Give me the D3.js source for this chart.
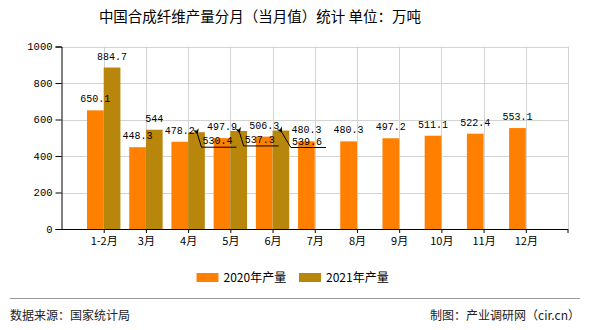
<!DOCTYPE html>
<html><head><meta charset="utf-8">
<script src="https://cdn.jsdelivr.net/npm/d3@7"></script>
<style>body{margin:0;background:#fff}svg{display:block}</style>
</head><body>
<svg id="c" width="590" height="330"></svg>
<script>
const categories = ["1-2月","3月","4月","5月","6月","7月","8月","9月","10月","11月","12月"];
const values2020 = [650.1,448.3,478.2,497.9,506.3,480.3,480.3,497.2,511.1,522.4,553.1];
const values2021 = [884.7,544,530.4,537.3,539.6];
const yTicks = [0,200,400,600,800,1000];
const seriesNames = ["2020年产量","2021年产量"];
const colors = ["#ff8000","#b8860b"];

const svg = d3.select("#c");
const L = 61.5, R = 568, T = 46.5, B = 229;
const x = d3.scalePoint().domain(categories).range([L, R]).padding(1);
const y = d3.scaleLinear().domain([0, 1000]).range([B, T]);
const bw = 16.7;
const numFont = "'Liberation Mono', 'DejaVu Sans Mono', monospace";
const cjk = "'Noto Sans CJK SC', sans-serif";
const fs = 10;

// title
svg.append("text").attr("x", 260).attr("y", 22).attr("text-anchor", "middle")
  .attr("font-family", cjk).attr("font-size", 14.5).attr("fill", "#000")
  .text("中国合成纤维产量分月（当月值）统计 单位：万吨");

// grid
const g = svg.append("g");
g.selectAll(".hg").data(yTicks.filter(d => d > 0)).join("line")
  .attr("x1", L).attr("x2", R).attr("y1", d => Math.round(y(d)) + 0.5).attr("y2", d => Math.round(y(d)) + 0.5)
  .attr("stroke", "#d3d3d3");
g.selectAll(".vg").data(categories).join("line")
  .attr("x1", d => Math.round(x(d)) + 0.5).attr("x2", d => Math.round(x(d)) + 0.5).attr("y1", T).attr("y2", B)
  .attr("stroke", "#d3d3d3");
g.append("line").attr("x1", R + 0.5).attr("x2", R + 0.5).attr("y1", T).attr("y2", B).attr("stroke", "#d3d3d3");

// bars
svg.append("g").selectAll("rect").data(values2020).join("rect")
  .attr("x", (d, i) => x(categories[i]) - bw).attr("width", bw)
  .attr("y", d => y(d)).attr("height", d => B - y(d)).attr("fill", colors[0]);
svg.append("g").selectAll("rect").data(values2021).join("rect")
  .attr("x", (d, i) => x(categories[i])).attr("width", bw)
  .attr("y", d => y(d)).attr("height", d => B - y(d)).attr("fill", colors[1]);

// axes
const ya = svg.append("g").attr("transform", `translate(${L},0)`)
  .call(d3.axisLeft(y).tickValues(yTicks).tickSize(6).tickPadding(3).tickFormat(d3.format("d")));
ya.select(".domain").attr("stroke", "#000");
ya.selectAll("text").attr("font-family", numFont).attr("font-size", 10.5).attr("fill", "#000");
const xa = svg.append("g").attr("transform", `translate(0,${B})`)
  .call(d3.axisBottom(x).tickSize(4).tickSizeOuter(0).tickPadding(4));
xa.select(".domain").attr("stroke", "#000").attr("d", `M${L},0.5H${R}`);
xa.selectAll("text").attr("font-family", cjk).attr("font-size", 11).attr("fill", "#000");
xa.append("line").attr("x1", R).attr("x2", R).attr("y1", 0).attr("y2", 4).attr("stroke", "#000");

// labels 2020
svg.append("g").selectAll("text").data(values2020).join("text")
  .attr("x", (d, i) => x(categories[i]) - bw / 2).attr("y", d => y(d) - 8)
  .attr("text-anchor", "middle").attr("font-family", numFont).attr("font-size", fs).attr("fill", "#000")
  .text(d => d3.format(".1f")(d));

// labels 2021 (first two above bars, rest as callouts)
svg.append("defs").append("marker").attr("id", "ar").attr("viewBox", "0 0 10 10")
  .attr("refX", 1).attr("refY", 5).attr("markerWidth", 6).attr("markerHeight", 6)
  .attr("orient", "auto-start-reverse")
  .append("path").attr("d", "M0,5L10,0L7,5L10,10Z").attr("fill", "#000");
const calloutFrom = 2;
const lg = svg.append("g");
values2021.forEach((v, i) => {
  const cx = x(categories[i]) + bw / 2, top = y(v);
  const txt = String(v);
  if (i < calloutFrom) {
    lg.append("text").attr("x", cx).attr("y", top - 8).attr("text-anchor", "middle")
      .attr("font-family", numFont).attr("font-size", fs).attr("fill", "#000").text(txt);
  } else {
    const dx = i === 4 ? 10 : 5, dy = i === 4 ? 17 : 15;
    const bx = cx + dx, by = top + dy;
    lg.append("path").attr("d", `M${bx + 35},${by}H${bx}L${cx + 1},${top + 2}`)
      .attr("fill", "none").attr("stroke", "#000").attr("stroke-width", 1)
      .attr("marker-end", "url(#ar)");
    lg.append("text").attr("x", bx + 1).attr("y", by - 3)
      .attr("font-family", numFont).attr("font-size", fs).attr("fill", "#000").text(txt);
  }
});

// legend
const leg = svg.append("g");
[196.5, 299].forEach((lx, i) => {
  leg.append("rect").attr("x", lx).attr("y", 273).attr("width", 22).attr("height", 9).attr("fill", colors[i]);
  leg.append("text").attr("x", lx + 27).attr("y", 281.5).attr("font-family", cjk).attr("font-size", 12)
    .attr("fill", "#000").text(seriesNames[i]);
});

// footer
svg.append("line").attr("x1", 10).attr("x2", 580).attr("y1", 298.5).attr("y2", 298.5).attr("stroke", "#999");
svg.append("text").attr("x", 10).attr("y", 320).attr("font-family", cjk).attr("font-size", 12).attr("fill", "#222")
  .text("数据来源：国家统计局");
svg.append("text").attr("x", 580).attr("y", 320).attr("text-anchor", "end").attr("font-family", cjk).attr("font-size", 12).attr("fill", "#222")
  .text("制图：产业调研网（cir.cn）");
</script>
</body></html>
